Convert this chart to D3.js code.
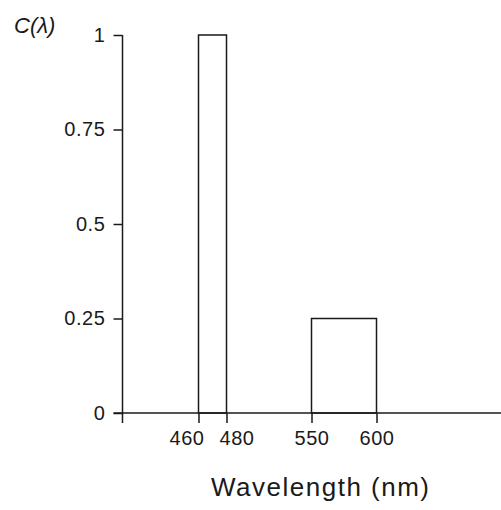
<!DOCTYPE html>
<html><head><meta charset="utf-8">
<script src="https://cdn.jsdelivr.net/npm/d3@7"></script>
<style>body{margin:0;background:#fff}svg{display:block}</style>
</head><body>
<svg id="c" width="501" height="510"></svg>
<script>
const barStart = [460, 550];
const barEnd = [480, 600];
const barValue = [1, 0.25];
const xTicks = [460, 480, 550, 600];
const yTicks = [0, 0.25, 0.5, 0.75, 1];
const yTickLabels = ["0", "0.25", "0.5", "0.75", "1"];
const xLabel = "Wavelength (nm)";
const yLabel = "C(λ)";

const svg = d3.select("#c");
const font = "Liberation Sans, Arial, sans-serif";
const ink = "#1a1a1a";

const x = d3.scaleLinear().domain([460, 480, 550, 600]).range([198.5, 226.5, 311.5, 376.5]);
const y = d3.scaleLinear().domain([0, 1]).range([413, 35]);
const axisX = 122.5;

// bars
svg.selectAll("rect.bar").data(barValue).join("rect")
  .attr("class", "bar")
  .attr("x", (d, i) => x(barStart[i]))
  .attr("width", (d, i) => x(barEnd[i]) - x(barStart[i]))
  .attr("y", d => y(d))
  .attr("height", d => y(0) - y(d))
  .attr("fill", "none").attr("stroke", ink).attr("stroke-width", 1.5);

// y axis
const gy = svg.append("g").attr("transform", `translate(${axisX},0)`)
  .call(d3.axisLeft(y).tickValues(yTicks).tickSize(9).tickPadding(8)
    .tickFormat((d, i) => yTickLabels[i]));
gy.select(".domain").remove();
gy.selectAll("line").attr("stroke", ink).attr("stroke-width", 1.5);
gy.selectAll("text").attr("font-family", font).attr("font-size", 20).attr("fill", ink)
  .attr("letter-spacing", 0.6);
svg.append("line").attr("x1", axisX).attr("x2", axisX).attr("y1", y(1)).attr("y2", y(0) + 10)
  .attr("stroke", ink).attr("stroke-width", 1.5);

// x axis
const gx = svg.append("g").attr("transform", `translate(0,${y(0)})`)
  .call(d3.axisBottom(x).tickValues(xTicks).tickSize(10).tickPadding(8).tickFormat(d3.format("d")));
gx.select(".domain").remove();
gx.selectAll("line").attr("stroke", ink).attr("stroke-width", 1.5);
const shift = {460: -12, 480: 10};
gx.selectAll("text").attr("font-family", font).attr("font-size", 20).attr("fill", ink)
  .attr("letter-spacing", 0.6).attr("dx", d => shift[d] || 0);
svg.append("line").attr("x1", axisX - 9).attr("x2", 501).attr("y1", y(0)).attr("y2", y(0))
  .attr("stroke", ink).attr("stroke-width", 1.5);

// labels
svg.append("text").attr("x", 211).attr("y", 496)
  .attr("font-family", font).attr("font-size", 26).attr("letter-spacing", 1.5).attr("fill", ink).text(xLabel);
svg.append("text").attr("x", 14).attr("y", 33)
  .attr("font-family", font).attr("font-size", 22).attr("font-style", "italic").attr("fill", ink).text(yLabel);
</script>
</body></html>
